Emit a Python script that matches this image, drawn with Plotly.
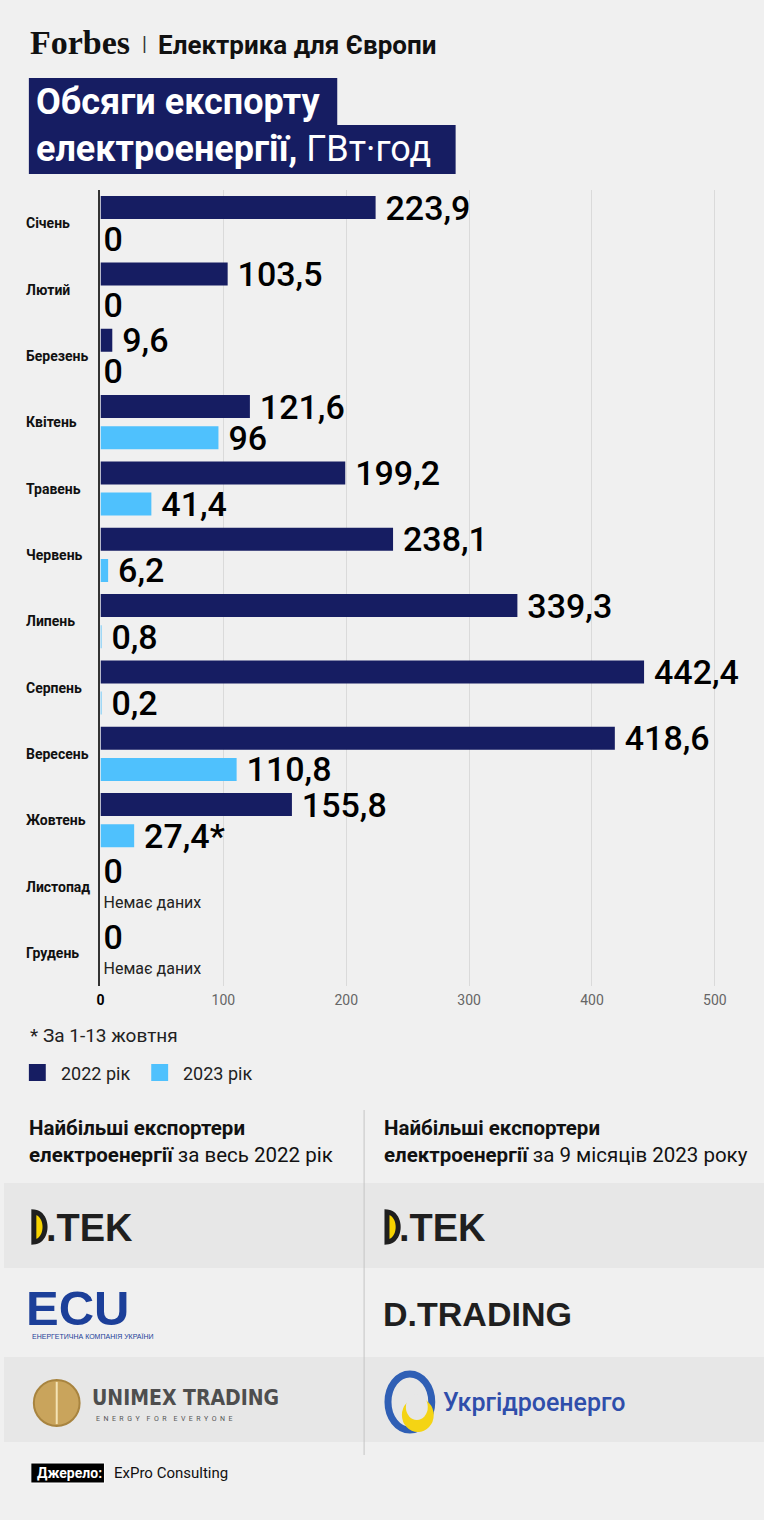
import numpy as np
import plotly.graph_objects as go

W, H = 764, 1520

months = ['Січень', 'Лютий', 'Березень', 'Квітень', 'Травень', 'Червень',
          'Липень', 'Серпень', 'Вересень', 'Жовтень', 'Листопад', 'Грудень']
exp_2022 = [223.9, 103.5, 9.6, 121.6, 199.2, 238.1, 339.3, 442.4, 418.6, 155.8, 0, 0]
exp_2023 = [0, 0, 0, 96, 41.4, 6.2, 0.8, 0.2, 110.8, 27.4, None, None]
notes_2023 = {'Жовтень': '*'}
no_data = 'Немає даних'
series_names = ['2022 рік', '2023 рік']

x_ticks = [0, 100, 200, 300, 400, 500]

NAVY = '#161d62'
BLUE = '#4fc1fd'
BG = '#f0f0f0'
FONT = 'Roboto'


def px(x):
    return x / W


def py(y):
    return 1 - y / H


def fmt(v):
    # thin space keeps the label a bit away from the bar end
    s = f'{v:g}'.replace('.', ',')
    return s if v == 0 else '\u2009' + s


text_2022 = [fmt(v) for v in exp_2022]
text_2023 = [no_data if v is None else fmt(v) + notes_2023.get(m, '') for m, v in zip(months, exp_2023)]
size_2023 = [16 if v is None else 34 for v in exp_2023]
weight_2023 = ['normal' if v is None else 500 for v in exp_2023]
color_2023 = ['#222' if v is None else '#000' for v in exp_2023]

fig = go.Figure()
fig.add_trace(go.Bar(
    y=months, x=exp_2022, orientation='h', name=series_names[0],
    marker=dict(color=NAVY, line=dict(width=0)),
    text=text_2022, textposition='outside', constraintext='none', cliponaxis=False,
    textfont=dict(family=FONT, size=34, color='#000', weight=500),
    hoverinfo='skip'))
fig.add_trace(go.Bar(
    y=months, x=[0 if v is None else v for v in exp_2023], orientation='h', name=series_names[1],
    marker=dict(color=BLUE, line=dict(width=0)),
    text=text_2023, textposition='outside', constraintext='none', cliponaxis=False,
    textfont=dict(family=FONT, size=size_2023, color=color_2023, weight=weight_2023),
    hoverinfo='skip'))

shapes = []
ann = []

# header
ann.append(dict(text='<b>Forbes</b>', x=px(24), y=py(42), xanchor='left', yanchor='middle',
                font=dict(family='Liberation Serif', size=34, color='#111')))
ann.append(dict(text='|', x=px(141), y=py(44), xanchor='center', yanchor='middle',
                font=dict(family=FONT, size=20, color='#333')))
ann.append(dict(text='<b>Електрика для Європи</b>', x=px(153), y=py(45), xanchor='left', yanchor='middle',
                font=dict(family=FONT, size=26, color='#111')))

# title boxes
shapes.append(dict(type='rect', xref='paper', yref='paper', x0=px(25), x1=px(335), y0=py(125), y1=py(78),
                   fillcolor=NAVY, line=dict(width=0), layer='above'))
shapes.append(dict(type='rect', xref='paper', yref='paper', x0=px(25), x1=px(454), y0=py(174), y1=py(125),
                   fillcolor=NAVY, line=dict(width=0), layer='above'))
ann.append(dict(text='<b>Обсяги експорту</b>', x=px(30), y=py(102), xanchor='left', yanchor='middle',
                font=dict(family=FONT, size=36, color='white')))
ann.append(dict(text='<b>електроенергії,</b> ГВт·год', x=px(30), y=py(149), xanchor='left', yanchor='middle',
                font=dict(family=FONT, size=36, color='white')))

# month labels
for m in months:
    ann.append(dict(text='<b>' + m + '</b>', x=px(20), y=m, xref='paper', yref='y',
                    xanchor='left', yanchor='middle',
                    font=dict(family=FONT, size=14, color='#111')))

# footnote
ann.append(dict(text='* За 1-13 жовтня', x=px(24), y=py(1035), xanchor='left', yanchor='middle',
                font=dict(family=FONT, size=19, color='#222')))

# legend
for i, (name, col) in enumerate(zip(series_names, [NAVY, BLUE])):
    x0 = 25 + i * 123
    shapes.append(dict(type='rect', xref='paper', yref='paper', x0=px(x0), x1=px(x0 + 17),
                       y0=py(1081), y1=py(1064), fillcolor=col, line=dict(width=0)))
    ann.append(dict(text=name, x=px(x0 + 30), y=py(1073), xanchor='left', yanchor='middle',
                    font=dict(family=FONT, size=18, color='#222')))

# bottom block
shapes.append(dict(type='rect', xref='paper', yref='paper', x0=0, x1=1, y0=py(1268), y1=py(1183),
                   fillcolor='#e7e7e7', line=dict(width=0), layer='below'))
shapes.append(dict(type='rect', xref='paper', yref='paper', x0=0, x1=1, y0=py(1442), y1=py(1357),
                   fillcolor='#e7e7e7', line=dict(width=0), layer='below'))
shapes.append(dict(type='line', xref='paper', yref='paper', x0=px(362), x1=px(362), y0=py(1455), y1=py(1110),
                   line=dict(color='#c4c4c4', width=1)))

ann.append(dict(text='<b>Найбільші експортери</b><br><b>електроенергії</b> за весь 2022 рік',
                x=px(23), y=py(1141), xanchor='left', yanchor='middle', align='left',
                font=dict(family=FONT, size=20.5, color='#111')))
ann.append(dict(text='<b>Найбільші експортери</b><br><b>електроенергії</b> за 9 місяців 2023 року',
                x=px(380), y=py(1141), xanchor='left', yanchor='middle', align='left',
                font=dict(family=FONT, size=20.5, color='#111')))


def dtek(x0, yc):
    t = np.linspace(-np.pi / 2, np.pi / 2, 25)
    r = 15
    xs = x0 + 2 + r * 0.75 * np.cos(t)
    ys = yc + r * np.sin(t)
    path = 'M {} {}'.format(px(x0 + 2), py(yc - r))
    for a, b in zip(xs, ys):
        path += ' L {} {}'.format(px(a), py(b))
    path += ' Z'
    shapes.append(dict(type='path', xref='paper', yref='paper', path=path,
                       fillcolor='#f7d300', line=dict(color='#1f1f1f', width=5)))
    ann.append(dict(text='<b>.TEK</b>', x=px(x0 + 12), y=py(yc + 1), xanchor='left', yanchor='middle',
                    font=dict(family='Liberation Sans', size=38, color='#1f1f1f')))


dtek(28, 1227)
dtek(383, 1227)

ann.append(dict(text='<b>ECU</b>', x=px(20), y=py(1308), xanchor='left', yanchor='middle',
                font=dict(family='Liberation Sans', size=49, color='#1c3f99')))
ann.append(dict(text='ЕНЕРГЕТИЧНА КОМПАНІЯ УКРАЇНИ', x=px(26), y=py(1336), xanchor='left', yanchor='middle',
                font=dict(family='Liberation Sans', size=7, color='#1c3f99')))

shapes.append(dict(type='circle', xref='paper', yref='paper', x0=px(30), x1=px(76), y0=py(1426), y1=py(1380),
                   fillcolor='#c9a45c', line=dict(color='#a8843f', width=2)))
shapes.append(dict(type='line', xref='paper', yref='paper', x0=px(53), x1=px(53), y0=py(1424), y1=py(1382),
                   line=dict(color='#f4e3b5', width=2)))
ann.append(dict(text='<b>UNIMEX TRADING</b>', x=px(86), y=py(1398), xanchor='left', yanchor='middle',
                font=dict(family='DejaVu Sans Condensed', size=21, color='#4e4e4e')))
ann.append(dict(text='E  N  E  R  G  Y    F  O  R    E  V  E  R  Y  O  N  E', x=px(90), y=py(1419),
                xanchor='left', yanchor='middle',
                font=dict(family=FONT, size=7, color='#555')))

ann.append(dict(text='<b>D.TRADING</b>', x=px(379), y=py(1314), xanchor='left', yanchor='middle',
                font=dict(family='Liberation Sans', size=34, color='#1f1f1f')))

shapes.append(dict(type='circle', xref='paper', yref='paper', x0=px(386), x1=px(430), y0=py(1430), y1=py(1374),
                   fillcolor='rgba(0,0,0,0)', line=dict(color='#2f5fb5', width=7)))
shapes.append(dict(type='circle', xref='paper', yref='paper', x0=px(400), x1=px(432), y0=py(1432), y1=py(1398),
                   fillcolor='#f4d414', line=dict(width=0)))
shapes.append(dict(type='circle', xref='paper', yref='paper', x0=px(404), x1=px(426), y0=py(1420), y1=py(1394),
                   fillcolor='#e7e7e7', line=dict(width=0)))
ann.append(dict(text='Укргідроенерго', x=px(439), y=py(1402), xanchor='left', yanchor='middle',
                font=dict(family=FONT, size=25, color='#2f4eab', weight=500)))

# source
shapes.append(dict(type='rect', xref='paper', yref='paper', x0=px(27), x1=px(101), y0=py(1483), y1=py(1463),
                   fillcolor='#000', line=dict(color='#fff', width=1)))
ann.append(dict(text='<b>Джерело:</b>', x=px(31), y=py(1473), xanchor='left', yanchor='middle',
                font=dict(family=FONT, size=14, color='white')))
ann.append(dict(text='ExPro Consulting', x=px(109), y=py(1473), xanchor='left', yanchor='middle',
                font=dict(family=FONT, size=15, color='#111')))

for a in ann:
    a.setdefault('xref', 'paper')
    a.setdefault('yref', 'paper')
    a['showarrow'] = False

tick_text = ["<span style='color:#000'><b>0</b></span>"] + [str(t) for t in x_ticks[1:]]

fig.update_layout(
    width=W, height=H,
    margin=dict(l=0, r=0, t=0, b=0),
    paper_bgcolor=BG, plot_bgcolor=BG,
    barmode='group', bargap=0.06, bargroupgap=0.26,
    font=dict(family=FONT, color='#222'),
    showlegend=False,
    xaxis=dict(domain=[px(97), 1], range=[0, 540], tickvals=x_ticks, ticktext=tick_text,
               showgrid=True, gridcolor='#dadada', gridwidth=1, zeroline=False,
               tickfont=dict(family=FONT, size=14, color='#666'), ticks='', fixedrange=True,
               ticklabelstandoff=4),
    yaxis=dict(domain=[py(986), py(190)], autorange='reversed', showticklabels=False,
               showline=True, linecolor='#333', linewidth=2, showgrid=False, ticks='',
               fixedrange=True),
    shapes=shapes,
    annotations=ann,
)

fig.write_html('out.html', config={'displayModeBar': False},
               post_script="document.body.style.margin='0';")
